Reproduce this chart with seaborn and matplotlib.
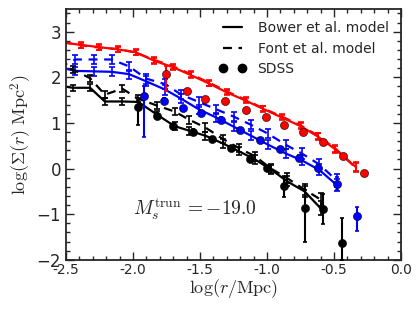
import numpy as np
import pandas as pd
import seaborn as sns
import matplotlib.pyplot as plt
from matplotlib.lines import Line2D
from matplotlib.ticker import MultipleLocator

sns.set_style('ticks')
plt.rcParams['font.family'] = ['DejaVu Sans']
plt.rcParams['mathtext.fontset'] = 'cm'

# model curves (log r, log Sigma)
red_x = [-2.52, -2.39, -2.25, -2.11, -1.98, -1.84, -1.70, -1.57, -1.43, -1.30, -1.16, -1.03, -0.89, -0.75, -0.62, -0.49, -0.34]
red_bower = [2.76, 2.71, 2.66, 2.61, 2.55, 2.36, 2.22, 2.05, 1.86, 1.67, 1.49, 1.31, 1.12, 0.93, 0.70, 0.42, 0.04]
red_font = [2.77, 2.70, 2.65, 2.62, 2.54, 2.38, 2.24, 2.07, 1.88, 1.69, 1.51, 1.32, 1.14, 0.95, 0.72, 0.44, 0.02]
red_err = [0.06, 0.06, 0.06, 0.06, 0.06, 0.06, 0.06, 0.06, 0.06, 0.06, 0.06, 0.06, 0.06, 0.06, 0.07, 0.08, 0.1]

blue_x = [-2.55, -2.43, -2.29, -2.16, -2.03, -1.90, -1.76, -1.64, -1.51, -1.38, -1.25, -1.12, -0.99, -0.86, -0.74, -0.61, -0.48]
blue_bower = [2.22, 2.14, 2.13, 2.12, 2.07, 1.91, 1.73, 1.53, 1.30, 1.12, 0.92, 0.72, 0.52, 0.33, 0.18, -0.03, -0.36]
blue_font = [2.22, 2.39, 2.39, 2.39, 2.24, 1.97, 1.85, 1.62, 1.46, 1.30, 1.14, 0.96, 0.76, 0.52, 0.33, 0.09, -0.26]
blue_err = [0.08, 0.09, 0.1, 0.1, 0.1, 0.11, 0.11, 0.1, 0.1, 0.1, 0.1, 0.1, 0.1, 0.1, 0.11, 0.12, 0.14]

black_x = [-2.58, -2.45, -2.32, -2.21, -2.08, -1.96, -1.82, -1.69, -1.58, -1.46, -1.33, -1.21, -1.09, -0.97, -0.85, -0.72, -0.60]
black_bower = [1.83, 1.77, 1.77, 1.47, 1.47, 1.46, 1.18, 0.93, 0.83, 0.72, 0.55, 0.38, 0.20, -0.02, -0.28, -0.50, -0.87]
black_font = [2.29, 2.17, 1.98, 1.62, 1.75, 1.53, 1.38, 1.25, 1.07, 0.90, 0.65, 0.45, 0.27, 0.00, -0.21, -0.46, -0.68]
black_err = [0.07, 0.07, 0.08, 0.08, 0.08, 0.08, 0.08, 0.08, 0.09, 0.09, 0.09, 0.09, 0.1, 0.1, 0.11, 0.12, 0.15]

# SDSS measurements
sdss_red_x = [-1.75, -1.60, -1.46, -1.31, -1.16, -1.01, -0.87, -0.73, -0.58, -0.43, -0.28]
sdss_red_y = [2.07, 1.69, 1.52, 1.49, 1.28, 1.14, 0.96, 0.81, 0.59, 0.27, -0.10]
sdss_red_lo = [0.38, 0.04, 0.04, 0.04, 0.04, 0.04, 0.04, 0.04, 0.04, 0.04, 0.04]
sdss_red_hi = [0.17, 0.04, 0.04, 0.04, 0.04, 0.04, 0.04, 0.04, 0.04, 0.04, 0.04]

sdss_blue_x = [-1.92, -1.77, -1.63, -1.49, -1.34, -1.20, -1.05, -0.90, -0.76, -0.62, -0.48, -0.33]
sdss_blue_y = [1.58, 1.49, 1.32, 1.21, 1.07, 0.85, 0.63, 0.43, 0.24, 0.02, -0.33, -1.04]
sdss_blue_lo = [0.88, 0.05, 0.05, 0.05, 0.05, 0.05, 0.05, 0.05, 0.05, 0.05, 0.14, 0.32]
sdss_blue_hi = [0.22, 0.05, 0.05, 0.05, 0.05, 0.05, 0.05, 0.05, 0.05, 0.05, 0.14, 0.19]

sdss_black_x = [-1.96, -1.82, -1.70, -1.55, -1.41, -1.27, -1.13, -1.00, -0.87, -0.72, -0.58, -0.44]
sdss_black_y = [1.36, 1.16, 0.93, 0.81, 0.65, 0.44, 0.22, 0.01, -0.39, -0.87, -0.89, -1.62]
sdss_black_lo = [0.40, 0.05, 0.05, 0.05, 0.05, 0.05, 0.05, 0.05, 0.23, 0.73, 0.33, 0.38]
sdss_black_hi = [0.15, 0.05, 0.05, 0.05, 0.05, 0.05, 0.05, 0.05, 0.23, 0.41, 0.33, 0.53]

xticks = [-2.5, -2.0, -1.5, -1.0, -0.5, 0.0]
xticklabels = ['-2.5', '-2.0', '-1.5', '-1.0', '-0.5', '0.0']

fig = plt.figure(figsize=(4.2, 3.15), dpi=100)
ax = fig.add_axes([0.157, 0.175, 0.798, 0.797])

models = [
    (red_x, red_bower, red_font, red_err, 'red'),
    (blue_x, blue_bower, blue_font, blue_err, 'blue'),
    (black_x, black_bower, black_font, black_err, 'black'),
]
for x, yb, yf, err, c in models:
    df = pd.DataFrame({'x': x, 'bower': yb, 'font': yf})
    sns.lineplot(data=df, x='x', y='bower', color=c, lw=1.6, sort=False,
                 estimator=None, ax=ax)
    sns.lineplot(data=df, x='x', y='font', color=c, lw=1.6, sort=False,
                 estimator=None, ax=ax, linestyle=(0, (4, 3)))
    ax.errorbar(x, yb, yerr=err, fmt='none', ecolor=c, elinewidth=1.2,
                capsize=2.5, capthick=1.2)
    ax.errorbar(x, yf, yerr=err, fmt='none', ecolor=c, elinewidth=1.2,
                capsize=2.5, capthick=1.2)

sdss = [
    (sdss_red_x, sdss_red_y, sdss_red_lo, sdss_red_hi, 'red'),
    (sdss_blue_x, sdss_blue_y, sdss_blue_lo, sdss_blue_hi, 'blue'),
    (sdss_black_x, sdss_black_y, sdss_black_lo, sdss_black_hi, 'black'),
]
for x, y, lo, hi, c in sdss:
    ax.errorbar(x, y, yerr=[lo, hi], fmt='none', ecolor=c, elinewidth=1.5,
                capsize=1.5, capthick=1.2, zorder=3)
    sns.scatterplot(x=x, y=y, color=c, s=34, edgecolor='black', linewidth=0.4,
                    ax=ax, zorder=4)

handles = [
    Line2D([], [], color='black', lw=1.6),
    Line2D([], [], color='black', lw=1.6, linestyle=(0, (4, 3))),
    Line2D([], [], color='black', marker='o', ls='none', markersize=6),
]
ax.legend(handles, ['Bower et al. model', 'Font et al. model', 'SDSS'],
          loc='upper right', frameon=False, fontsize=10, numpoints=2,
          handlelength=2.0, borderaxespad=0.5, labelspacing=0.45)

ax.text(-2.0, -0.9, r'$M_s^{\rm trun}\,{=}{-}19.0$', fontsize=14, va='center')

ax.set_xlim(-2.5, 0.0)
ax.set_ylim(-2.0, 3.5)
ax.set_xticks(xticks)
ax.set_xticklabels(xticklabels)
ax.set_yticks([-2, -1, 0, 1, 2, 3])
ax.xaxis.set_minor_locator(MultipleLocator(0.1))
ax.yaxis.set_minor_locator(MultipleLocator(0.2))
ax.tick_params(which='both', direction='in', top=True, right=True)
ax.tick_params(which='major', length=6, width=1)
ax.tick_params(which='minor', length=3, width=1)
ax.tick_params(axis='x', labelsize=10, pad=2)
ax.tick_params(axis='y', labelsize=12)
for s in ax.spines.values():
    s.set_linewidth(1.3)

ax.set_xlabel(r'$\log(r/{\rm Mpc})$', fontsize=13, labelpad=0)
ax.set_ylabel(r'$\log(\Sigma(r)\ {\rm Mpc}^2)$', fontsize=13, labelpad=2)

fig.savefig('out.png', dpi=100)
